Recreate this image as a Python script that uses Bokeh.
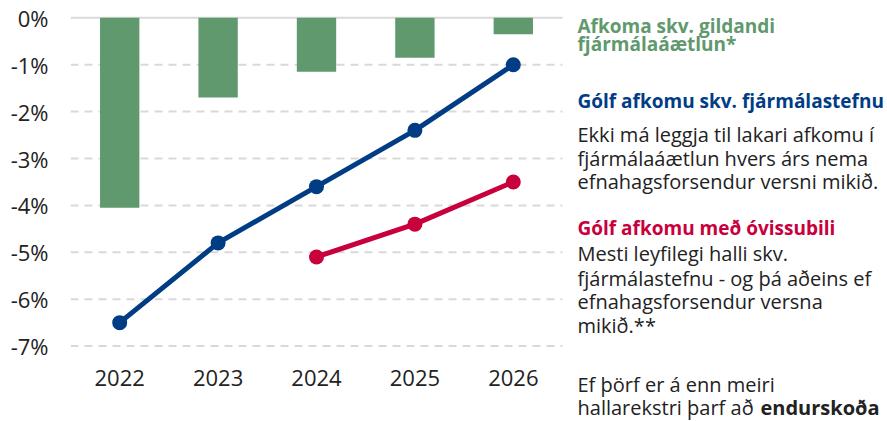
from bokeh.plotting import figure
from bokeh.models import Range1d, FixedTicker, Label
from bokeh.core.properties import value
from bokeh.embed import file_html
from bokeh.resources import INLINE

# ---- data ----
years = [2022, 2023, 2024, 2025, 2026]
year_labels = ["2022", "2023", "2024", "2025", "2026"]
afkoma = [-4.05, -1.70, -1.15, -0.85, -0.35]          # Afkoma skv. gildandi fjármálaáætlun
golf = [-6.5, -4.8, -3.6, -2.4, -1.0]                 # Gólf afkomu skv. fjármálastefnu
ovissa_years = [2024, 2025, 2026]
ovissa = [-5.1, -4.4, -3.5]                           # Gólf afkomu með óvissubili
y_ticks = [0, -1, -2, -3, -4, -5, -6, -7]
y_tick_labels = ["0%", "-1%", "-2%", "-3%", "-4%", "-5%", "-6%", "-7%"]

GREEN = "#61996E"
BLUE = "#003D85"
RED = "#C8003C"
TEXT = "#222222"
GRID = "#d9d9d9"
FONT = "Open Sans"

W, H = 887, 421
LEFT = 70
PX_PER_YEAR = 98.4
PX_PER_PCT = 46.9
ZERO_FROM_TOP = 17.3   # pixels from frame top to the 0% line

x0 = years[0] - 0.5
x1 = years[-1] + 0.5
x_end = x0 + (W - LEFT) / PX_PER_YEAR
y_end = ZERO_FROM_TOP / PX_PER_PCT
y_start = y_end - H / PX_PER_PCT

p = figure(width=W, height=H,
           min_border_left=LEFT, min_border_right=0, min_border_top=0, min_border_bottom=0,
           x_range=Range1d(x0, x_end), y_range=Range1d(y_start, y_end),
           x_axis_location=None,
           output_backend="svg", toolbar_location=None)
p.outline_line_color = None
p.background_fill_color = "white"
p.border_fill_color = "white"
p.grid.visible = False

# y axis
p.yaxis.ticker = FixedTicker(ticks=y_ticks)
p.yaxis.major_label_overrides = dict(zip(y_ticks, y_tick_labels))
ax = p.yaxis[0]
ax.axis_line_color = None
ax.major_tick_line_color = None
ax.minor_tick_line_color = None
ax.major_tick_out = 0
ax.major_label_text_font = FONT
ax.major_label_text_font_size = "22px"
ax.major_label_text_color = TEXT
ax.major_label_standoff = 22

# grid lines across the chart area only
grid_ticks = [t for t in y_ticks if t != 0]
n = len(grid_ticks)
p.segment(x0=[x0] * n, x1=[x1] * n, y0=grid_ticks, y1=grid_ticks,
          line_color=GRID, line_width=2, line_dash="8 6")
p.segment(x0=[x0], x1=[x1], y0=[0], y1=[0], line_color=GRID, line_width=2)

# marks
p.vbar(x=years, top=0, bottom=afkoma, width=0.4, fill_color=GREEN, line_color=None)
p.line(years, golf, line_color=BLUE, line_width=5)
p.scatter(years, golf, size=15, fill_color=BLUE, line_color=None)
p.line(ovissa_years, ovissa, line_color=RED, line_width=5)
p.scatter(ovissa_years, ovissa, size=15, fill_color=RED, line_color=None)

# year labels under the chart
p.text(x=years, y=[-7.67] * len(years), text=year_labels, text_font=value(FONT),
       text_font_size="22px", text_color=TEXT, text_align="center", text_baseline="alphabetic")

# right-hand text column; screen units measured from frame left / frame bottom
SHIFT = 8          # rendered alphabetic baseline sits this much lower than requested
X_TEXT = 577
lines = [
    ("Afkoma skv. gildandi", 33, GREEN, "bold"),
    ("fjármálaáætlun*", 51, GREEN, "bold"),
    ("Gólf afkomu skv. fjármálastefnu", 108, BLUE, "bold"),
    ("Ekki má leggja til lakari afkomu í", 142, TEXT, "normal"),
    ("fjármálaáætlun hvers árs nema", 166, TEXT, "normal"),
    ("efnahagsforsendur versni mikið.", 189, TEXT, "normal"),
    ("Gólf afkomu með óvissubili", 235, RED, "bold"),
    ("Mesti leyfilegi halli skv.", 261, TEXT, "normal"),
    ("fjármálastefnu - og þá aðeins ef", 286, TEXT, "normal"),
    ("efnahagsforsendur versna", 309, TEXT, "normal"),
    ("mikið.**", 333, TEXT, "normal"),
    ("Ef þörf er á enn meiri", 392, TEXT, "normal"),
    ("hallarekstri þarf að ", 415, TEXT, "normal"),
]
for txt, base, col, style in lines:
    p.add_layout(Label(x=X_TEXT - LEFT, y=H - (base - SHIFT),
                       x_units="screen", y_units="screen", text=txt,
                       text_font=FONT, text_font_size="19px" if style == "bold" else "20px",
                       text_font_style=style, text_color=col, text_baseline="alphabetic"))
p.add_layout(Label(x=760 - LEFT, y=H - (415 - SHIFT),
                   x_units="screen", y_units="screen", text="endurskoða",
                   text_font=FONT, text_font_size="20px", text_font_style="bold",
                   text_color=TEXT, text_baseline="alphabetic"))

open("out.html", "w").write(file_html(p, INLINE))
